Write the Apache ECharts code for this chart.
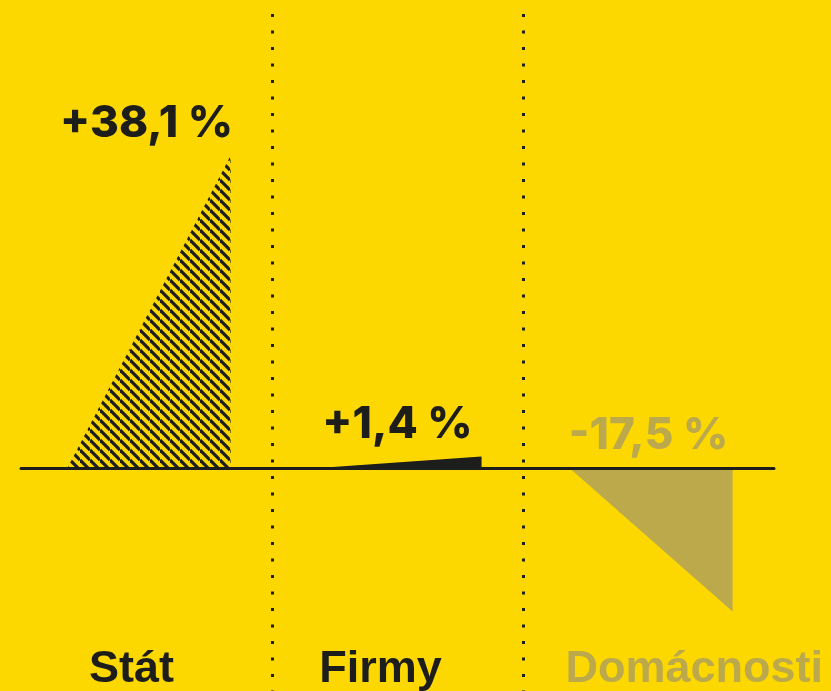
<!DOCTYPE html>
<html lang="cs">
<head>
<meta charset="UTF-8">
<title>Změna</title>
<script src="https://cdn.jsdelivr.net/npm/echarts@6/dist/echarts.min.js"></script>
<style>
  html, body { margin: 0; padding: 0; background: #fcd800; }
  #chart { width: 831px; height: 691px; }
</style>
</head>
<body>
<div id="chart"></div>
<script>
// data
var categories = ['Stát', 'Firmy', 'Domácnosti'];
var changes = [38.1, 1.4, -17.5];

// styles
var yellow = '#fcd800';
var ink = '#1d1d1b';
var olive = '#bba94c';
var fills = ['hatch', ink, olive];
var textColors = [ink, ink, olive];
var nameAlign = ['center', 'center', 'left'];
var nameShift = [-15, -17, -83];

function makeHatch() {
  var s = 10;
  var c = document.createElement('canvas');
  c.width = s; c.height = s;
  var ctx = c.getContext('2d');
  ctx.strokeStyle = ink;
  ctx.lineWidth = 3.2;
  for (var k = -1; k <= 1; k++) {
    ctx.beginPath();
    ctx.moveTo(0, k * s);
    ctx.lineTo(s, s + k * s);
    ctx.stroke();
  }
  return { image: c, repeat: 'repeat' };
}
var hatch = makeHatch();

function fmt(v) {
  return (v > 0 ? '+' : '') + v.toFixed(1).replace('.', ',') + ' %';
}

function renderItem(params, api) {
  var i = params.dataIndex;
  var v = api.value(1);
  var base = api.coord([i, 0]);
  var top = api.coord([i, v]);
  var band = api.size([1, 0])[0];
  var x0 = base[0] - band * 0.315;
  var x1 = base[0] + band * 0.335;
  var cs = params.coordSys;
  return {
    type: 'group',
    children: [
      {
        type: 'polygon',
        shape: { points: [[x0, base[1]], [x1, base[1]], [x1, top[1]]] },
        style: { fill: fills[i] === 'hatch' ? hatch : fills[i] }
      },
      {
        type: 'text',
        x: base[0],
        y: Math.min(base[1], top[1]) - 32,
        style: {
          text: fmt(v),
          fill: textColors[i],
          font: '800 44px Inter',
          align: 'center',
          verticalAlign: 'middle'
        }
      },
      {
        type: 'text',
        x: base[0] + nameShift[i],
        y: cs.y + cs.height - 21,
        style: {
          text: categories[i],
          fill: textColors[i],
          font: 'bold 45px "Liberation Sans", Arial, sans-serif',
          align: nameAlign[i],
          verticalAlign: 'middle'
        }
      }
    ]
  };
}

var chart = echarts.init(document.getElementById('chart'), null, { renderer: 'canvas' });

var option = {
  backgroundColor: yellow,
  animation: false,
  grid: { left: 21, right: 57, top: 14, bottom: 0, containLabel: false },
  xAxis: {
    type: 'category',
    data: categories,
    z: 5,
    axisLine: { show: true, onZero: true, lineStyle: { color: ink, width: 3 } },
    axisTick: { show: false },
    axisLabel: { show: false },
    splitLine: {
      show: true,
      showMinLine: false,
      showMaxLine: false,
      lineStyle: { color: ink, width: 3, type: [3, 13.5] }
    }
  },
  yAxis: {
    type: 'value',
    min: -27.2,
    max: 55.4,
    show: false,
    splitLine: { show: false }
  },
  series: [{
    type: 'custom',
    z: 1,
    renderItem: renderItem,
    data: changes.map(function (v, i) { return [i, v]; })
  }]
};

chart.setOption(option);
</script>
</body>
</html>
